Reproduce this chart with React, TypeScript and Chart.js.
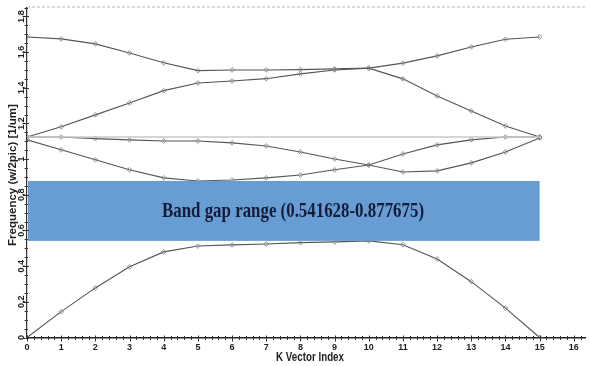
import { useEffect, useRef } from 'react';
import { Chart, registerables } from 'chart.js';

Chart.register(...registerables);

// Wave-vector sample index along the path
const kIndex = [0, 1, 2, 3, 4, 5, 6, 7, 8, 9, 10, 11, 12, 13, 14, 15];

// Normalised frequencies (w/2pic) for the five lowest bands
const band1 = [0, 0.145, 0.278, 0.396, 0.48, 0.513, 0.519, 0.524, 0.532, 0.536, 0.541628, 0.52, 0.44, 0.313, 0.165, 0];
const band2 = [1.108, 1.052, 0.996, 0.94, 0.895, 0.877675, 0.883, 0.895, 0.911, 0.94, 0.967, 0.928, 0.934, 0.979, 1.04, 1.119];
const band3 = [1.124, 1.124, 1.115, 1.108, 1.102, 1.102, 1.091, 1.074, 1.04, 1.001, 0.967, 1.029, 1.08, 1.108, 1.124, 1.124];
const band4 = [1.124, 1.181, 1.248, 1.315, 1.384, 1.427, 1.438, 1.451, 1.478, 1.5, 1.51, 1.45, 1.354, 1.27, 1.186, 1.124];
const band5 = [1.685, 1.674, 1.646, 1.595, 1.54, 1.496, 1.5, 1.5, 1.502, 1.506, 1.51, 1.538, 1.579, 1.629, 1.672, 1.685];

// Flat reference level at the light-line crossing and its k span
const flatLevel = 1.124;
const flatSpan = [0, 15];

// Band gap limits and its k span
const gapLow = 0.541628;
const gapHigh = 0.877675;
const gapSpan = [0, 15];
const gapLabel = 'Band gap range (0.541628-0.877675)';

// Axis ranges and tick labels
const xMax = 16.33;
const yMax = 1.85;
const xTickValues = [0, 1, 2, 3, 4, 5, 6, 7, 8, 9, 10, 11, 12, 13, 14, 15, 16];
const yTickValues = [0, 0.2, 0.4, 0.6, 0.8, 1, 1.2, 1.4, 1.6, 1.8];
const yTickLabels = ['0', '0,2', '0,4', '0,6', '0,8', '1', '1,2', '1,4', '1,6', '1,8'];
const xTitle = 'K Vector Index';
const yTitle = 'Frequency (w/2pic) [1/um]';

const bands = [band1, band2, band3, band4, band5];

const decorPlugin = {
  id: 'decor',
  beforeDatasetsDraw(chart: any) {
    const { ctx, chartArea, scales } = chart;
    const y = scales.y.getPixelForValue(yMax) - 0.5;
    ctx.save();
    ctx.strokeStyle = '#b4b4b4';
    ctx.lineWidth = 1;
    ctx.setLineDash([3, 2]);
    ctx.beginPath();
    ctx.moveTo(chartArea.left, y);
    ctx.lineTo(chartArea.right, y);
    ctx.stroke();
    ctx.restore();
  },
  afterDatasetsDraw(chart: any) {
    const { ctx, scales } = chart;
    const x0 = scales.x.getPixelForValue(gapSpan[0]);
    const x1 = scales.x.getPixelForValue(gapSpan[1]);
    const yTop = scales.y.getPixelForValue(gapHigh);
    const yBot = scales.y.getPixelForValue(gapLow);
    ctx.save();
    ctx.fillStyle = '#689dd3';
    ctx.fillRect(x0 + 1, yTop, x1 - x0 - 1, yBot - yTop);
    ctx.fillStyle = '#141c3a';
    ctx.font = 'bold 21px "Liberation Serif", "Times New Roman", serif';
    ctx.textAlign = 'center';
    ctx.textBaseline = 'middle';
    ctx.fillText(gapLabel, 293, (yTop + yBot) / 2 + 0.5, 262);
    ctx.restore();
  },
  afterDraw(chart: any) {
    const { ctx, scales } = chart;
    const xs = scales.x;
    const ys = scales.y;
    const axisY = ys.getPixelForValue(0);
    const axisX = xs.getPixelForValue(0);
    ctx.save();
    ctx.strokeStyle = '#333';
    ctx.lineWidth = 1;
    // x-axis tick marks, five per unit
    for (let i = 0; i <= Math.floor(xMax * 5); i++) {
      const px = Math.round(xs.getPixelForValue(i / 5)) + 0.5;
      const major = i % 5 === 0;
      ctx.beginPath();
      ctx.moveTo(px, axisY - (major ? 2 : 1.5));
      ctx.lineTo(px, axisY + (major ? 4 : 2.5));
      ctx.stroke();
    }
    // y-axis tick marks, four per 0.2
    for (let i = 0; i <= Math.floor(yMax * 20); i++) {
      const py = Math.round(ys.getPixelForValue(i / 20)) + 0.5;
      const major = i % 4 === 0;
      ctx.beginPath();
      ctx.moveTo(axisX - (major ? 4 : 2.5), py);
      ctx.lineTo(axisX + (major ? 2 : 1), py);
      ctx.stroke();
    }
    ctx.fillStyle = '#1e1e1e';
    ctx.font = 'bold 9px Arial, "Liberation Sans", sans-serif';
    ctx.textAlign = 'center';
    ctx.textBaseline = 'middle';
    xTickValues.forEach((v) => {
      ctx.fillText(String(v), xs.getPixelForValue(v), axisY + 10);
    });
    yTickValues.forEach((v, i) => {
      ctx.save();
      ctx.translate(22, ys.getPixelForValue(v));
      ctx.rotate(-Math.PI / 2);
      ctx.fillText(yTickLabels[i], 0, 0);
      ctx.restore();
    });
    ctx.font = 'bold 12px Arial, "Liberation Sans", sans-serif';
    ctx.fillText(xTitle, 310, 357.5, 68);
    ctx.save();
    ctx.translate(13, 175);
    ctx.rotate(-Math.PI / 2);
    ctx.font = 'bold 11.5px Arial, "Liberation Sans", sans-serif';
    ctx.fillText(yTitle, 0, 0, 158);
    ctx.restore();
    ctx.restore();
  },
};

export default function App() {
  const canvasRef = useRef<HTMLCanvasElement | null>(null);

  useEffect(() => {
    document.body.style.margin = '0';
    const canvas = canvasRef.current;
    if (!canvas) return;

    const bandSets = bands.map((b, n) => ({
      label: `Band ${n + 1}`,
      data: kIndex.map((k, i) => ({ x: k, y: b[i] })),
      borderColor: '#555555',
      borderWidth: 1.1,
      pointStyle: 'rectRot' as const,
      pointRadius: 2.4,
      pointBorderWidth: 0.9,
      pointBorderColor: '#8a8a8a',
      pointBackgroundColor: 'rgba(255,255,255,0)',
      tension: 0,
    }));

    const chart = new Chart(canvas, {
      type: 'line',
      data: {
        datasets: [
          {
            label: 'level',
            data: flatSpan.map((k) => ({ x: k, y: flatLevel })),
            borderColor: '#c9c9c9',
            borderWidth: 1.6,
            pointRadius: 0,
          },
          ...bandSets,
        ],
      },
      options: {
        animation: false,
        responsive: true,
        maintainAspectRatio: false,
        devicePixelRatio: 1,
        layout: { padding: { top: 7.5, right: 0, left: 0, bottom: 0 } },
        plugins: { legend: { display: false }, tooltip: { enabled: false } },
        scales: {
          x: {
            type: 'linear',
            min: 0,
            max: xMax,
            ticks: { display: false },
            grid: { display: true, drawOnChartArea: false, drawTicks: false },
            border: { color: '#222', width: 1.5 },
            afterFit: (s: any) => {
              s.height = 28.5;
            },
          },
          y: {
            type: 'linear',
            min: 0,
            max: yMax,
            ticks: { display: false },
            grid: { display: true, drawOnChartArea: false, drawTicks: false },
            border: { color: '#333', width: 1.2 },
            afterFit: (s: any) => {
              s.width = 27;
            },
          },
        },
      },
      plugins: [decorPlugin],
    });

    return () => chart.destroy();
  }, []);

  return (
    <div style={{ position: 'relative', width: 590, height: 366, background: '#fff' }}>
      <canvas ref={canvasRef} />
    </div>
  );
}
